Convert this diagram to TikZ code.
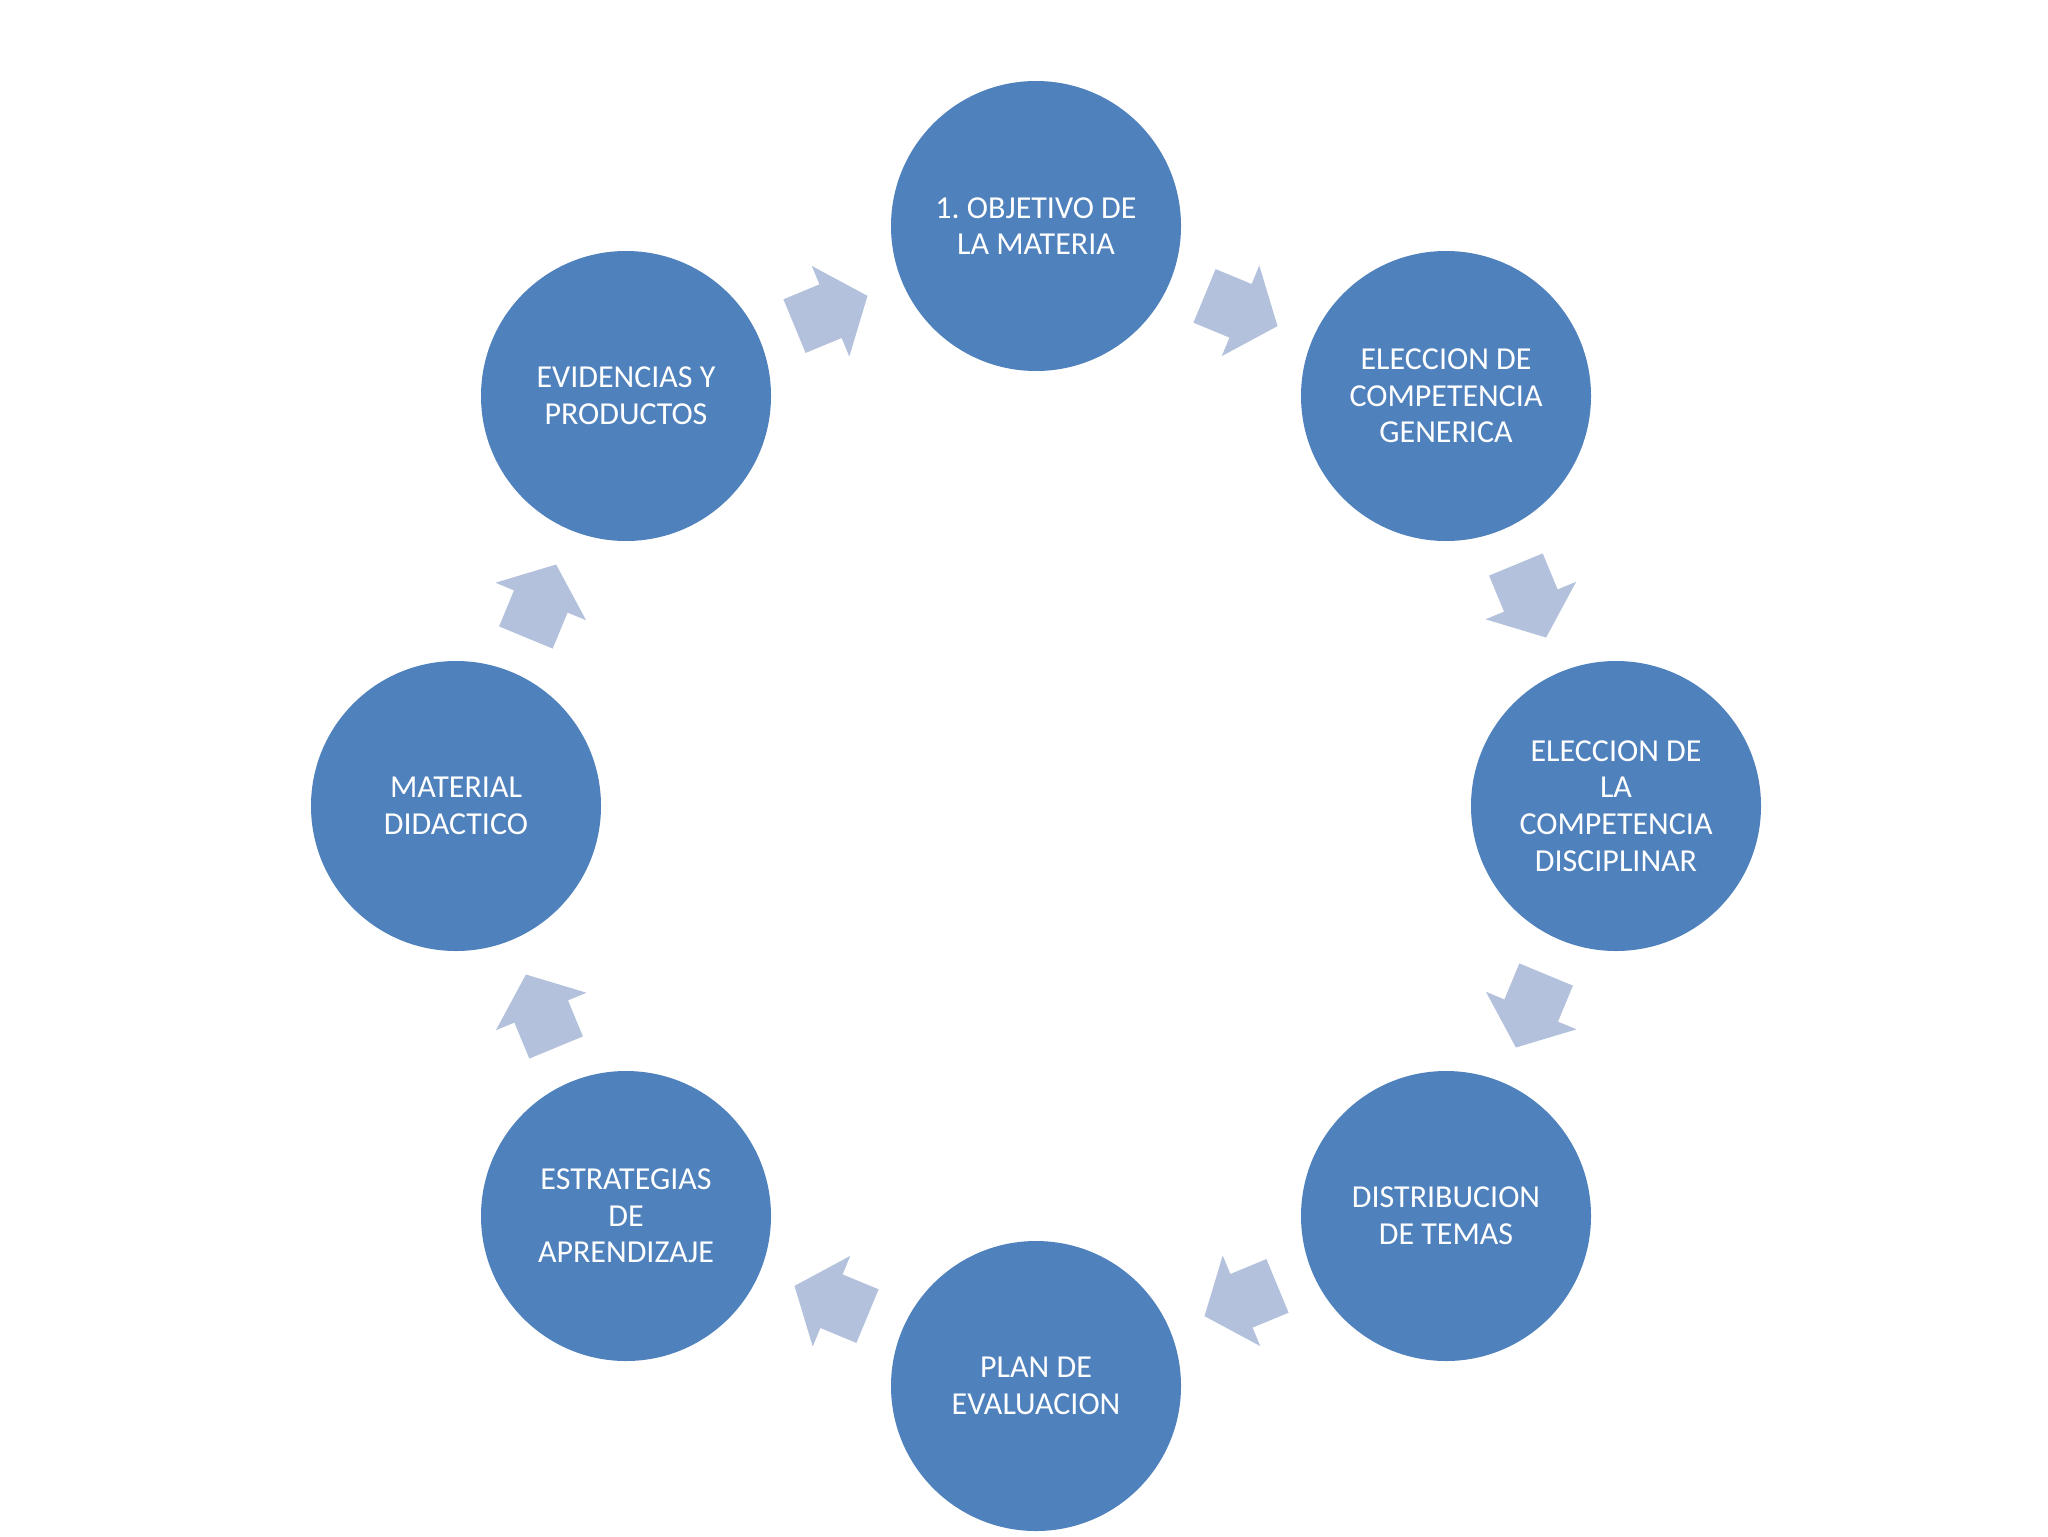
\documentclass[tikz,border=0pt]{standalone}
\usepackage{fontspec}
\setmainfont{Carlito}
\usetikzlibrary{calc}
\definecolor{circblue}{HTML}{4F81BD}
\definecolor{arrblue}{HTML}{B3C1DC}
\tikzset{
  stage/.style={circle, fill=circblue, draw=none, minimum size=145pt, inner sep=0pt,
    align=center, text=white, font=\fontsize{16}{18.3}\selectfont},
  blockarrow/.style={fill=arrblue, draw=none}
}
\frenchspacing
\begin{document}
\begin{tikzpicture}[x=0.5pt,y=-0.5pt]
\useasboundingbox[fill=white] (0,0) rectangle (2048,1536);
\node[stage] (c1) at (1036,226) {1. OBJETIVO DE\\LA MATERIA};
\node[stage] (c2) at (1446,396) {ELECCION DE\\COMPETENCIA\\GENERICA};
\node[stage] (c3) at (1616,806) {ELECCION DE\\LA\\COMPETENCIA\\DISCIPLINAR};
\node[stage] (c4) at (1446,1216) {DISTRIBUCION\\DE TEMAS};
\node[stage] (c5) at (1036,1386) {PLAN DE\\EVALUACION};
\node[stage] (c6) at (626,1216) {ESTRATEGIAS\\DE\\APRENDIZAJE};
\node[stage] (c7) at (456,806) {MATERIAL\\DIDACTICO};
\node[stage] (c8) at (626,396) {EVIDENCIAS Y\\PRODUCTOS};
\foreach \a/\b/\ang in {c1/c2/-22.5, c2/c3/-67.5, c3/c4/-112.5, c4/c5/-157.5,
                        c5/c6/157.5, c6/c7/112.5, c7/c8/67.5, c8/c1/22.5}{
  \begin{scope}[shift={($(\a)!0.5!(\b)$)}, rotate=\ang]
    \fill[blockarrow] (-39.5,-29) -- (-0.5,-29) -- (-0.5,-49) -- (39.5,0)
      -- (-0.5,49) -- (-0.5,29) -- (-39.5,29) -- cycle;
  \end{scope}
}
\end{tikzpicture}
\end{document}
